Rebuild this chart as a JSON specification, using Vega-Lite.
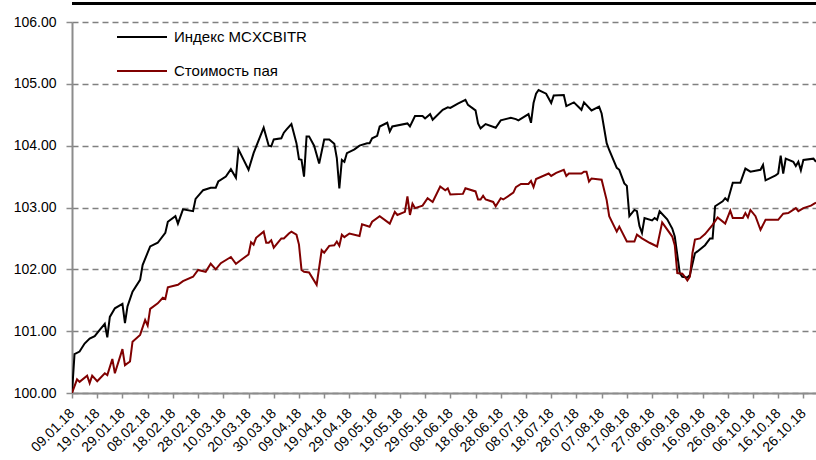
{
  "$schema": "https://vega.github.io/schema/vega-lite/v6.json",
  "autosize": {"type": "none"},
  "width": 744,
  "height": 371,
  "padding": {"left": 72, "top": 22, "right": 0, "bottom": 67},
  "config": {"font": "Liberation Sans", "view": {"stroke": null}, "axis": {"labelOverlap": false, "labelFlush": false}},
  "datasets": {
    "idx": [
      {"date":"2018-01-09","value":100.00},{"date":"2018-01-10","value":100.63},{"date":"2018-01-12","value":100.67},{"date":"2018-01-14","value":100.80},{"date":"2018-01-16","value":100.88},{"date":"2018-01-18","value":100.92},{"date":"2018-01-20","value":101.02},{"date":"2018-01-22","value":101.12},{"date":"2018-01-23","value":100.90},{"date":"2018-01-24","value":101.23},{"date":"2018-01-26","value":101.37},{"date":"2018-01-29","value":101.44},{"date":"2018-01-30","value":101.13},{"date":"2018-01-31","value":101.40},
      {"date":"2018-02-02","value":101.64},{"date":"2018-02-05","value":101.83},{"date":"2018-02-06","value":102.07},{"date":"2018-02-09","value":102.37},{"date":"2018-02-12","value":102.43},{"date":"2018-02-15","value":102.59},{"date":"2018-02-16","value":102.77},{"date":"2018-02-19","value":102.86},{"date":"2018-02-20","value":102.74},{"date":"2018-02-22","value":102.97},{"date":"2018-02-26","value":102.94},{"date":"2018-02-27","value":103.14},
      {"date":"2018-03-02","value":103.28},{"date":"2018-03-05","value":103.32},{"date":"2018-03-07","value":103.32},{"date":"2018-03-08","value":103.42},{"date":"2018-03-11","value":103.50},{"date":"2018-03-13","value":103.62},{"date":"2018-03-15","value":103.48},{"date":"2018-03-16","value":103.94},{"date":"2018-03-20","value":103.61},{"date":"2018-03-22","value":103.88},{"date":"2018-03-26","value":104.29},{"date":"2018-03-28","value":104.00},{"date":"2018-03-29","value":103.99},{"date":"2018-03-30","value":104.10},
      {"date":"2018-04-02","value":104.12},{"date":"2018-04-03","value":104.21},{"date":"2018-04-04","value":104.26},{"date":"2018-04-06","value":104.35},{"date":"2018-04-08","value":104.04},{"date":"2018-04-09","value":103.78},{"date":"2018-04-10","value":103.77},{"date":"2018-04-11","value":103.50},{"date":"2018-04-12","value":104.15},{"date":"2018-04-13","value":104.15},{"date":"2018-04-15","value":104.00},{"date":"2018-04-17","value":103.71},{"date":"2018-04-19","value":104.10},{"date":"2018-04-21","value":104.10},{"date":"2018-04-23","value":104.03},{"date":"2018-04-24","value":103.80},{"date":"2018-04-25","value":103.31},{"date":"2018-04-26","value":103.77},{"date":"2018-04-27","value":103.74},{"date":"2018-04-28","value":103.88},
      {"date":"2018-05-01","value":103.94},{"date":"2018-05-03","value":104.00},{"date":"2018-05-06","value":104.04},{"date":"2018-05-07","value":104.04},{"date":"2018-05-08","value":104.12},{"date":"2018-05-10","value":104.16},{"date":"2018-05-11","value":104.31},{"date":"2018-05-14","value":104.37},{"date":"2018-05-15","value":104.23},{"date":"2018-05-16","value":104.31},{"date":"2018-05-22","value":104.36},{"date":"2018-05-23","value":104.31},{"date":"2018-05-25","value":104.48},{"date":"2018-05-28","value":104.48},{"date":"2018-05-29","value":104.44},{"date":"2018-05-31","value":104.51},
      {"date":"2018-06-01","value":104.42},{"date":"2018-06-05","value":104.58},{"date":"2018-06-07","value":104.62},{"date":"2018-06-08","value":104.61},{"date":"2018-06-11","value":104.68},{"date":"2018-06-12","value":104.70},{"date":"2018-06-14","value":104.74},{"date":"2018-06-15","value":104.66},{"date":"2018-06-18","value":104.57},{"date":"2018-06-19","value":104.36},{"date":"2018-06-20","value":104.28},{"date":"2018-06-22","value":104.35},{"date":"2018-06-26","value":104.29},{"date":"2018-06-28","value":104.41},
      {"date":"2018-07-02","value":104.45},{"date":"2018-07-04","value":104.43},{"date":"2018-07-05","value":104.41},{"date":"2018-07-09","value":104.51},{"date":"2018-07-10","value":104.37},{"date":"2018-07-11","value":104.69},{"date":"2018-07-12","value":104.84},{"date":"2018-07-13","value":104.90},{"date":"2018-07-16","value":104.84},{"date":"2018-07-18","value":104.69},{"date":"2018-07-19","value":104.81},{"date":"2018-07-23","value":104.82},{"date":"2018-07-24","value":104.64},{"date":"2018-07-27","value":104.70},{"date":"2018-07-30","value":104.58},{"date":"2018-07-31","value":104.70},
      {"date":"2018-08-03","value":104.57},{"date":"2018-08-06","value":104.63},{"date":"2018-08-07","value":104.52},{"date":"2018-08-09","value":104.04},{"date":"2018-08-10","value":103.93},{"date":"2018-08-13","value":103.64},{"date":"2018-08-14","value":103.61},{"date":"2018-08-16","value":103.39},{"date":"2018-08-17","value":103.35},{"date":"2018-08-18","value":102.86},{"date":"2018-08-20","value":102.96},{"date":"2018-08-21","value":102.94},{"date":"2018-08-22","value":102.70},{"date":"2018-08-23","value":102.59},{"date":"2018-08-24","value":102.83},{"date":"2018-08-27","value":102.79},{"date":"2018-08-28","value":102.83},{"date":"2018-08-29","value":102.80},{"date":"2018-08-30","value":102.94},
      {"date":"2018-09-02","value":102.81},{"date":"2018-09-04","value":102.66},{"date":"2018-09-05","value":102.53},{"date":"2018-09-07","value":101.94},{"date":"2018-09-08","value":101.88},{"date":"2018-09-10","value":101.87},{"date":"2018-09-11","value":101.91},{"date":"2018-09-13","value":102.26},{"date":"2018-09-14","value":102.29},{"date":"2018-09-17","value":102.39},{"date":"2018-09-19","value":102.50},{"date":"2018-09-20","value":102.50},{"date":"2018-09-21","value":103.02},{"date":"2018-09-24","value":103.10},{"date":"2018-09-25","value":103.15},{"date":"2018-09-26","value":103.11},{"date":"2018-09-28","value":103.40},
      {"date":"2018-10-01","value":103.40},{"date":"2018-10-03","value":103.63},{"date":"2018-10-05","value":103.58},{"date":"2018-10-09","value":103.61},{"date":"2018-10-10","value":103.69},{"date":"2018-10-11","value":103.44},{"date":"2018-10-15","value":103.52},{"date":"2018-10-16","value":103.55},{"date":"2018-10-17","value":103.84},{"date":"2018-10-18","value":103.55},{"date":"2018-10-19","value":103.79},{"date":"2018-10-22","value":103.74},{"date":"2018-10-23","value":103.67},{"date":"2018-10-24","value":103.74},{"date":"2018-10-25","value":103.60},{"date":"2018-10-26","value":103.77},{"date":"2018-10-30","value":103.79},{"date":"2018-10-31","value":103.74}
    ],
    "pay": [
      {"date":"2018-01-09","value":100.00},{"date":"2018-01-11","value":100.22},{"date":"2018-01-12","value":100.18},{"date":"2018-01-15","value":100.28},{"date":"2018-01-16","value":100.16},{"date":"2018-01-17","value":100.28},{"date":"2018-01-19","value":100.19},{"date":"2018-01-22","value":100.32},{"date":"2018-01-23","value":100.29},{"date":"2018-01-25","value":100.55},{"date":"2018-01-26","value":100.32},{"date":"2018-01-29","value":100.71},{"date":"2018-01-30","value":100.45},
      {"date":"2018-02-01","value":100.51},{"date":"2018-02-02","value":100.83},{"date":"2018-02-05","value":100.94},{"date":"2018-02-07","value":101.18},{"date":"2018-02-08","value":101.09},{"date":"2018-02-09","value":101.36},{"date":"2018-02-12","value":101.45},{"date":"2018-02-14","value":101.54},{"date":"2018-02-15","value":101.52},{"date":"2018-02-16","value":101.71},{"date":"2018-02-20","value":101.75},{"date":"2018-02-22","value":101.81},{"date":"2018-02-26","value":101.88},{"date":"2018-02-28","value":101.99},
      {"date":"2018-03-03","value":101.96},{"date":"2018-03-05","value":102.09},{"date":"2018-03-07","value":102.00},{"date":"2018-03-09","value":102.10},{"date":"2018-03-13","value":102.20},{"date":"2018-03-15","value":102.09},{"date":"2018-03-17","value":102.15},{"date":"2018-03-20","value":102.24},{"date":"2018-03-21","value":102.44},{"date":"2018-03-22","value":102.40},{"date":"2018-03-23","value":102.51},{"date":"2018-03-26","value":102.61},{"date":"2018-03-27","value":102.43},{"date":"2018-03-28","value":102.43},{"date":"2018-03-29","value":102.47},{"date":"2018-03-30","value":102.35},
      {"date":"2018-04-02","value":102.50},{"date":"2018-04-03","value":102.50},{"date":"2018-04-05","value":102.58},{"date":"2018-04-06","value":102.61},{"date":"2018-04-08","value":102.56},{"date":"2018-04-09","value":102.40},{"date":"2018-04-10","value":101.99},{"date":"2018-04-11","value":101.96},{"date":"2018-04-13","value":101.95},{"date":"2018-04-16","value":101.75},{"date":"2018-04-18","value":102.31},{"date":"2018-04-19","value":102.27},{"date":"2018-04-21","value":102.38},{"date":"2018-04-23","value":102.39},{"date":"2018-04-24","value":102.45},{"date":"2018-04-25","value":102.38},{"date":"2018-04-26","value":102.56},{"date":"2018-04-27","value":102.52},{"date":"2018-04-29","value":102.58},
      {"date":"2018-05-03","value":102.54},{"date":"2018-05-04","value":102.73},{"date":"2018-05-07","value":102.69},{"date":"2018-05-08","value":102.77},{"date":"2018-05-11","value":102.86},{"date":"2018-05-15","value":102.74},{"date":"2018-05-17","value":102.93},{"date":"2018-05-18","value":102.88},{"date":"2018-05-21","value":102.93},{"date":"2018-05-22","value":103.18},{"date":"2018-05-23","value":102.88},{"date":"2018-05-24","value":103.06},{"date":"2018-05-25","value":102.99},{"date":"2018-05-28","value":103.03},{"date":"2018-05-30","value":103.15},
      {"date":"2018-06-01","value":103.09},{"date":"2018-06-04","value":103.34},{"date":"2018-06-06","value":103.28},{"date":"2018-06-07","value":103.31},{"date":"2018-06-08","value":103.21},{"date":"2018-06-13","value":103.22},{"date":"2018-06-14","value":103.31},{"date":"2018-06-18","value":103.26},{"date":"2018-06-19","value":103.13},{"date":"2018-06-20","value":103.13},{"date":"2018-06-21","value":103.19},{"date":"2018-06-22","value":103.13},{"date":"2018-06-25","value":103.09},{"date":"2018-06-26","value":103.02},{"date":"2018-06-28","value":103.15},{"date":"2018-06-29","value":103.13},
      {"date":"2018-07-03","value":103.24},{"date":"2018-07-04","value":103.33},{"date":"2018-07-06","value":103.38},{"date":"2018-07-09","value":103.38},{"date":"2018-07-10","value":103.43},{"date":"2018-07-11","value":103.33},{"date":"2018-07-12","value":103.46},{"date":"2018-07-17","value":103.55},{"date":"2018-07-18","value":103.51},{"date":"2018-07-20","value":103.56},{"date":"2018-07-23","value":103.61},{"date":"2018-07-24","value":103.51},{"date":"2018-07-25","value":103.55},{"date":"2018-07-30","value":103.55},{"date":"2018-07-31","value":103.58},
      {"date":"2018-08-01","value":103.58},{"date":"2018-08-02","value":103.42},{"date":"2018-08-03","value":103.47},{"date":"2018-08-07","value":103.45},{"date":"2018-08-09","value":103.12},{"date":"2018-08-10","value":102.86},{"date":"2018-08-13","value":102.61},{"date":"2018-08-14","value":102.69},{"date":"2018-08-17","value":102.45},{"date":"2018-08-20","value":102.45},{"date":"2018-08-21","value":102.56},{"date":"2018-08-23","value":102.50},{"date":"2018-08-26","value":102.43},{"date":"2018-08-29","value":102.37},{"date":"2018-08-31","value":102.76},
      {"date":"2018-09-04","value":102.53},{"date":"2018-09-05","value":102.39},{"date":"2018-09-06","value":101.94},{"date":"2018-09-08","value":101.93},{"date":"2018-09-09","value":101.88},{"date":"2018-09-10","value":101.82},{"date":"2018-09-11","value":101.88},{"date":"2018-09-12","value":102.26},{"date":"2018-09-13","value":102.48},{"date":"2018-09-15","value":102.50},{"date":"2018-09-17","value":102.57},{"date":"2018-09-20","value":102.72},{"date":"2018-09-22","value":102.84},{"date":"2018-09-25","value":102.74},{"date":"2018-09-27","value":102.95},{"date":"2018-09-28","value":102.83},
      {"date":"2018-10-02","value":102.83},{"date":"2018-10-03","value":102.91},{"date":"2018-10-04","value":102.84},{"date":"2018-10-05","value":102.96},{"date":"2018-10-07","value":102.86},{"date":"2018-10-09","value":102.64},{"date":"2018-10-11","value":102.80},{"date":"2018-10-16","value":102.80},{"date":"2018-10-18","value":102.90},{"date":"2018-10-20","value":102.91},{"date":"2018-10-23","value":102.99},{"date":"2018-10-24","value":102.94},{"date":"2018-10-26","value":102.99},{"date":"2018-10-29","value":103.03},{"date":"2018-10-31","value":103.08}
    ]
  },
  "layer": [
    {
      "data": {"name": "idx"},
      "mark": {"type": "line", "strokeWidth": 2, "clip": true},
      "encoding": {
        "x": {
          "field": "date", "type": "temporal",
          "scale": {"type": "utc", "domain": [{"year": 2018, "month": 1, "date": 9, "utc": true}, {"year": 2018, "month": 10, "date": 31, "utc": true}]},
          "axis": {
            "title": null,
            "tickCount": 100,
            "values": [
              {"year":2018,"month":1,"date":9,"utc":true},{"year":2018,"month":1,"date":19,"utc":true},{"year":2018,"month":1,"date":29,"utc":true},
              {"year":2018,"month":2,"date":8,"utc":true},{"year":2018,"month":2,"date":18,"utc":true},{"year":2018,"month":2,"date":28,"utc":true},
              {"year":2018,"month":3,"date":10,"utc":true},{"year":2018,"month":3,"date":20,"utc":true},{"year":2018,"month":3,"date":30,"utc":true},
              {"year":2018,"month":4,"date":9,"utc":true},{"year":2018,"month":4,"date":19,"utc":true},{"year":2018,"month":4,"date":29,"utc":true},
              {"year":2018,"month":5,"date":9,"utc":true},{"year":2018,"month":5,"date":19,"utc":true},{"year":2018,"month":5,"date":29,"utc":true},
              {"year":2018,"month":6,"date":8,"utc":true},{"year":2018,"month":6,"date":18,"utc":true},{"year":2018,"month":6,"date":28,"utc":true},
              {"year":2018,"month":7,"date":8,"utc":true},{"year":2018,"month":7,"date":18,"utc":true},{"year":2018,"month":7,"date":28,"utc":true},
              {"year":2018,"month":8,"date":7,"utc":true},{"year":2018,"month":8,"date":17,"utc":true},{"year":2018,"month":8,"date":27,"utc":true},
              {"year":2018,"month":9,"date":6,"utc":true},{"year":2018,"month":9,"date":16,"utc":true},{"year":2018,"month":9,"date":26,"utc":true},
              {"year":2018,"month":10,"date":6,"utc":true},{"year":2018,"month":10,"date":16,"utc":true},{"year":2018,"month":10,"date":26,"utc":true}
            ],
            "format": "%d.%m.%y",
            "labelAngle": -45,
            "labelAlign": "right",
            "labelBaseline": "middle",
            "labelFontSize": 14,
            "labelColor": "#000000",
            "labelFlush": false,
            "labelOverlap": false,
            "labelPadding": 13,
            "domainColor": "#8c8c8c",
            "domainWidth": 2,
            "tickColor": "#8c8c8c",
            "tickWidth": 1.5,
            "tickSize": 5,
            "grid": false
          }
        },
        "y": {
          "field": "value", "type": "quantitative",
          "scale": {"domain": [100, 106], "nice": false, "zero": false},
          "axis": {
            "title": null,
            "values": [100, 101, 102, 103, 104, 105, 106],
            "format": ".2f",
            "labelFontSize": 14,
            "labelColor": "#000000",
            "labelPadding": 10,
            "domainColor": "#8c8c8c",
            "domainWidth": 2,
            "tickColor": "#8c8c8c",
            "tickWidth": 1.5,
            "tickSize": 6,
            "grid": true,
            "gridColor": "#808080",
            "gridDash": [6, 4],
            "gridWidth": 1.5
          }
        },
        "color": {
          "datum": "Индекс MCXCBITR",
          "type": "nominal",
          "scale": {"domain": ["Индекс MCXCBITR", "Стоимость пая"], "range": ["#000000", "#800000"]},
          "legend": {
            "title": null,
            "orient": "none",
            "legendX": 44,
            "legendY": -11,
            "symbolType": "stroke",
            "symbolSize": 2500,
            "symbolStrokeWidth": 2,
            "labelFontSize": 15,
            "labelColor": "#000000",
            "labelOffset": 6,
            "rowPadding": -2
          }
        }
      }
    },
    {
      "data": {"name": "pay"},
      "mark": {"type": "line", "strokeWidth": 2, "clip": true},
      "encoding": {
        "x": {"field": "date", "type": "temporal"},
        "y": {"field": "value", "type": "quantitative"},
        "color": {"datum": "Стоимость пая", "type": "nominal"}
      }
    },
    {
      "data": {"values": [{"level": 106.3}]},
      "mark": {"type": "rule", "color": "#000000", "strokeWidth": 3, "clip": false},
      "encoding": {
        "y": {"field": "level", "type": "quantitative"}
      }
    }
  ]
}
